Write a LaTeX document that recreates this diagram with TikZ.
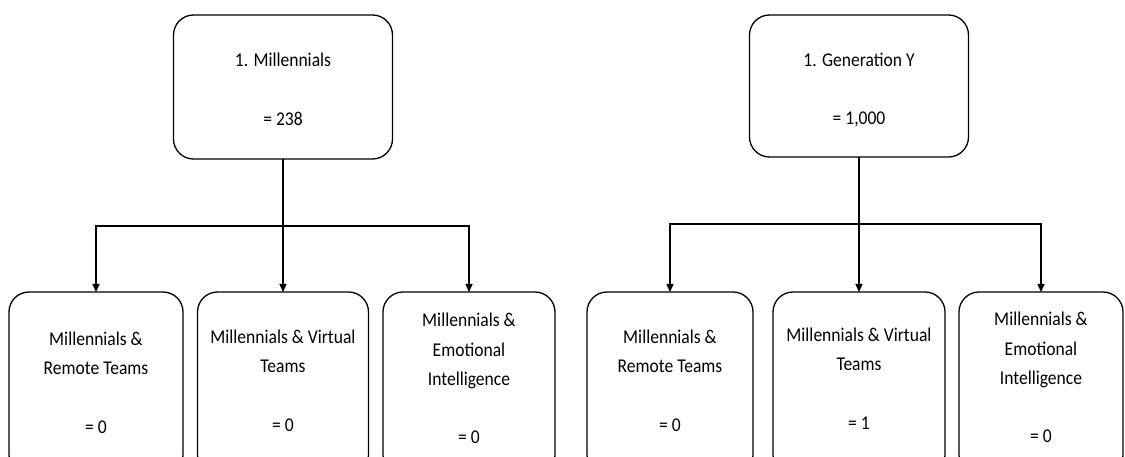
\documentclass[tikz,border=0pt]{standalone}
\usepackage{fontspec}
\setmainfont{Carlito}[FakeStretch=0.9]
\usetikzlibrary{arrows.meta}
\begin{document}
\begin{tikzpicture}[x=1pt,y=-1pt,
  boxshape/.style={draw=black, line width=1.3pt, rounded corners=20pt, inner sep=0pt, outer sep=0pt, fill=white},
  txt/.style={align=center, inner sep=0pt, font=\fontsize{19.5}{29.2}\selectfont},
  link/.style={draw=black, line width=1.4pt},
  arr/.style={link, -{Triangle[length=8pt,width=7pt]}}]
\useasboundingbox (0,0) rectangle (1125,457);
\clip (0,0) rectangle (1125,457);
% top boxes
\node[boxshape, minimum width=219pt, minimum height=144pt] (m) at (283,87) {};
\node[boxshape, minimum width=219pt, minimum height=142pt] (g) at (859,86) {};
% bottom boxes (cut off by the page)
\node[boxshape, minimum width=174pt, minimum height=183pt] (a) at (96,383.5) {};
\node[boxshape, minimum width=171pt, minimum height=183pt] (b) at (283,383.5) {};
\node[boxshape, minimum width=172pt, minimum height=183pt] (c) at (469,383.5) {};
\node[boxshape, minimum width=166pt, minimum height=183pt] (d) at (670,383.5) {};
\node[boxshape, minimum width=172pt, minimum height=183pt] (e) at (859,383.5) {};
\node[boxshape, minimum width=164pt, minimum height=183pt] (f) at (1041,383.5) {};
% texts
\node[txt] (mt) at (283,89.5) {1. Millennials\\\mbox{}\\= 238};
\node[txt] (gt) at (859,90) {1. Generation Y\\\mbox{}\\= 1,000};
\node[txt] (at) at (96,382.5) {Millennials \&\\Remote Teams\\\mbox{}\\= 0};
\node[txt] (bt) at (283,380.5) {Millennials \& Virtual\\Teams\\\mbox{}\\= 0};
\node[txt] (ct) at (469,378.5) {Millennials \&\\Emotional\\Intelligence\\\mbox{}\\= 0};
\node[txt] (dt) at (670,380.5) {Millennials \&\\Remote Teams\\\mbox{}\\= 0};
\node[txt] (et) at (859,378.5) {Millennials \& Virtual\\Teams\\\mbox{}\\= 1};
\node[txt] (ft) at (1041,377.5) {Millennials \&\\Emotional\\Intelligence\\\mbox{}\\= 0};
% connectors
\coordinate (mb) at (283,226);
\coordinate (gb) at (859,224);
\draw[link] (m.south) -- (mb);
\draw[arr] (mb) -| (a.north);
\draw[arr] (mb) -- (b.north);
\draw[arr] (mb) -| (c.north);
\draw[link] (g.south) -- (gb);
\draw[arr] (gb) -| (d.north);
\draw[arr] (gb) -- (e.north);
\draw[arr] (gb) -| (f.north);
\end{tikzpicture}
\end{document}
